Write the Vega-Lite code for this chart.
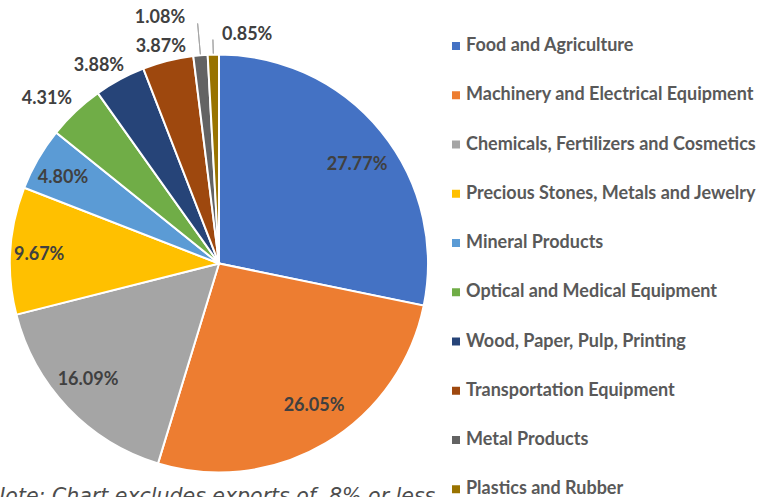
{
  "$schema": "https://vega.github.io/schema/vega-lite/v6.json",
  "width": 438,
  "height": 497,
  "autosize": "none",
  "padding": {"top": 15, "left": 0, "right": 319, "bottom": 0},
  "background": "white",
  "config": {"view": {"stroke": null}},
  "title": {
    "text": "Note: Chart excludes exports of .8% or less",
    "orient": "bottom",
    "anchor": "start",
    "frame": "group",
    "font": "DejaVu Sans",
    "fontStyle": "italic",
    "fontWeight": 200,
    "fontSize": 20.5,
    "color": "#4d4d4d",
    "offset": 0,
    "dx": -10,
    "dy": -25
  },
  "data": {
    "values": [
      {"cat": "Food and Agriculture", "value": 27.77},
      {"cat": "Machinery and Electrical Equipment", "value": 26.05},
      {"cat": "Chemicals, Fertilizers and Cosmetics", "value": 16.09},
      {"cat": "Precious Stones, Metals and Jewelry", "value": 9.67},
      {"cat": "Mineral Products", "value": 4.80},
      {"cat": "Optical and Medical Equipment", "value": 4.31},
      {"cat": "Wood, Paper, Pulp, Printing", "value": 3.88},
      {"cat": "Transportation Equipment", "value": 3.87},
      {"cat": "Metal Products", "value": 1.08},
      {"cat": "Plastics and Rubber", "value": 0.85}
    ]
  },
  "transform": [{"calculate": "format(datum.value, '.2f') + '%'", "as": "label"}],
  "encoding": {
    "theta": {"field": "value", "type": "quantitative", "stack": true},
    "order": {"field": "value", "type": "quantitative", "sort": "descending"},
    "detail": {"field": "cat", "type": "nominal"}
  },
  "layer": [
    {
      "mark": {"type": "arc", "outerRadius": 209, "stroke": "white", "strokeWidth": 2},
      "encoding": {
        "color": {
          "field": "cat",
          "type": "nominal",
          "scale": {
            "domain": ["Food and Agriculture", "Machinery and Electrical Equipment", "Chemicals, Fertilizers and Cosmetics", "Precious Stones, Metals and Jewelry", "Mineral Products", "Optical and Medical Equipment", "Wood, Paper, Pulp, Printing", "Transportation Equipment", "Metal Products", "Plastics and Rubber"],
            "range": ["#4472C4", "#ED7D31", "#A5A5A5", "#FFC000", "#5B9BD5", "#70AD47", "#264478", "#9E480E", "#636363", "#997300"]
          },
          "legend": {
            "orient": "none",
            "legendX": 447,
            "legendY": 22,
            "title": null,
            "symbolType": "square",
            "symbolSize": 64,
            "symbolStrokeWidth": 0,
            "labelFont": "Lato",
            "labelFontWeight": "bold",
            "labelFontSize": 18,
            "labelColor": "#595959",
            "labelOffset": 1,
            "labelLimit": 400,
            "rowPadding": 31.25,
            "padding": 0
          }
        }
      }
    },
    {
      "mark": {"type": "arc", "outerRadius": 241, "innerRadius": 210, "padAngle": 0.3, "filled": false, "stroke": "#A6A6A6", "strokeWidth": 1},
      "encoding": {"strokeOpacity": {"condition": {"test": "datum.cat === 'Metal Products'", "value": 1}, "value": 0}}
    },
    {
      "mark": {"type": "arc", "outerRadius": 224, "innerRadius": 210, "padAngle": 0.3, "filled": false, "stroke": "#A6A6A6", "strokeWidth": 1},
      "encoding": {"strokeOpacity": {"condition": {"test": "datum.cat === 'Plastics and Rubber'", "value": 1}, "value": 0}}
    },
    {
      "mark": {"type": "text", "radius": 169.5, "dx": 6.7, "dy": 8.6, "font": "Lato", "fontWeight": "bold", "fontSize": 18, "fill": "#404040"},
      "encoding": {"text": {"condition": {"test": "datum.cat === 'Food and Agriculture'", "field": "label", "type": "nominal"}, "value": ""}}
    },
    {
      "mark": {"type": "text", "radius": 171.3, "dx": 7.6, "dy": -4.8, "font": "Lato", "fontWeight": "bold", "fontSize": 18, "fill": "#404040"},
      "encoding": {"text": {"condition": {"test": "datum.cat === 'Machinery and Electrical Equipment'", "field": "label", "type": "nominal"}, "value": ""}}
    },
    {
      "mark": {"type": "text", "radius": 175.3, "dx": -4, "dy": -4.4, "font": "Lato", "fontWeight": "bold", "fontSize": 18, "fill": "#404040"},
      "encoding": {"text": {"condition": {"test": "datum.cat === 'Chemicals, Fertilizers and Cosmetics'", "field": "label", "type": "nominal"}, "value": ""}}
    },
    {
      "mark": {"type": "text", "radius": 180.2, "dx": 0, "dy": 2.5, "font": "Lato", "fontWeight": "bold", "fontSize": 18, "fill": "#404040"},
      "encoding": {"text": {"condition": {"test": "datum.cat === 'Precious Stones, Metals and Jewelry'", "field": "label", "type": "nominal"}, "value": ""}}
    },
    {
      "mark": {"type": "text", "radius": 177.9, "dx": -2, "dy": 3.5, "font": "Lato", "fontWeight": "bold", "fontSize": 18, "fill": "#404040"},
      "encoding": {"text": {"condition": {"test": "datum.cat === 'Mineral Products'", "field": "label", "type": "nominal"}, "value": ""}}
    },
    {
      "mark": {"type": "text", "radius": 238.3, "dx": -8.6, "dy": 8.4, "font": "Lato", "fontWeight": "bold", "fontSize": 18, "fill": "#404040"},
      "encoding": {"text": {"condition": {"test": "datum.cat === 'Optical and Medical Equipment'", "field": "label", "type": "nominal"}, "value": ""}}
    },
    {
      "mark": {"type": "text", "radius": 231, "dx": -10.5, "dy": 6, "font": "Lato", "fontWeight": "bold", "fontSize": 18, "fill": "#404040"},
      "encoding": {"text": {"condition": {"test": "datum.cat === 'Wood, Paper, Pulp, Printing'", "field": "label", "type": "nominal"}, "value": ""}}
    },
    {
      "mark": {"type": "text", "radius": 224.6, "dx": -3.3, "dy": 0.8, "font": "Lato", "fontWeight": "bold", "fontSize": 18, "fill": "#404040"},
      "encoding": {"text": {"condition": {"test": "datum.cat === 'Transportation Equipment'", "field": "label", "type": "nominal"}, "value": ""}}
    },
    {
      "mark": {"type": "text", "radius": 252.5, "dx": -36.6, "dy": 6, "font": "Lato", "fontWeight": "bold", "fontSize": 18, "fill": "#404040"},
      "encoding": {"text": {"condition": {"test": "datum.cat === 'Metal Products'", "field": "label", "type": "nominal"}, "value": ""}}
    },
    {
      "mark": {"type": "text", "radius": 230, "dx": 34.4, "dy": 1.4, "font": "Lato", "fontWeight": "bold", "fontSize": 18, "fill": "#404040"},
      "encoding": {"text": {"condition": {"test": "datum.cat === 'Plastics and Rubber'", "field": "label", "type": "nominal"}, "value": ""}}
    }
  ]
}
